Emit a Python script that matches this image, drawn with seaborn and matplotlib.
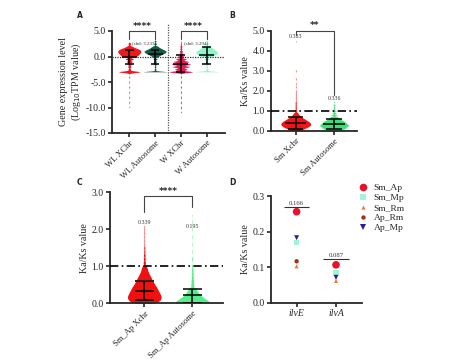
import numpy as np
import pandas as pd
import matplotlib
matplotlib.use("Agg")
import matplotlib.pyplot as plt
import seaborn as sns

sns.set_style("ticks")
plt.rcParams['font.family'] = ['Liberation Serif', 'DejaVu Serif']

# ---------------- data ----------------
# Panel A: expression profiles (value levels and relative counts)
a_groups = ["WL XChr", "WL Autosome", "W XChr", "W Autosome"]
a_colors = ["#f2161e", "#0d5c45", "#e8185a", "#8ff5c8"]
a_wlx_vals = [-10, -9, -8, -7, -6, -5, -4, -3, -2.5, -2, -1.5, -1, -0.5, 0, 0.25, 0.5, 0.75, 1.0, 1.25, 1.5, 1.75, 2.0, 2.5, 2.8]
a_wlx_cnts = [1, 1, 1, 1, 1, 1, 1, 26, 3, 4, 5, 7, 10, 13, 15, 17, 19, 20, 19, 15, 9, 5, 3, 1]
a_wla_vals = [-3, -2.5, -2, -1.5, -1, -0.5, 0, 0.25, 0.5, 0.75, 1.0, 1.25, 1.5, 1.75, 2.0, 2.5, 3.0, 3.5]
a_wla_cnts = [24, 2, 2, 3, 3, 4, 6, 9, 14, 18, 20, 17, 12, 8, 5, 3, 2, 1]
a_wx_vals = [-11, -10, -9, -8, -7, -6, -5, -4, -3, -2.5, -2, -1.5, -1, -0.5, 0, 0.5, 1, 1.5, 2, 2.5, 3]
a_wx_cnts = [1, 1, 1, 1, 1, 1, 1, 1, 22, 12, 16, 18, 15, 10, 6, 4, 3, 2, 2, 1, 1]
a_wa_vals = [-3, -2.5, -2, -1.5, -1, -0.5, 0, 0.25, 0.5, 0.75, 1.0, 1.25, 1.5, 1.75, 2, 2.5, 3, 3.5, 4]
a_wa_cnts = [22, 2, 2, 3, 3, 5, 8, 12, 16, 18, 17, 14, 11, 8, 6, 4, 2, 1, 1]
a_med = [0.0, 0.5, -1.4, 0.35]
a_q1 = [-1.5, -1.4, -3.0, -1.4]
a_q3 = [1.3, 1.3, 0.3, 1.95]
a_notes = ["(shd: 3.233)", "(shd: 3.294)"]

# Panel B: Ka/Ks
b_groups = ["Sm Xchr", "Sm Autosome"]
b_colors = ["#f01414", "#3fe07c"]
b_x_vals = [0.0, 0.05, 0.1, 0.15, 0.2, 0.25, 0.3, 0.35, 0.4, 0.45, 0.5, 0.55, 0.6, 0.65, 0.7, 0.75, 0.8, 0.85, 0.9,
            1.0, 1.1, 1.2, 1.3, 1.4, 1.5, 1.6, 1.7, 1.8, 1.9, 2.0, 2.2, 2.35, 2.6, 3.0, 4.5]
b_x_cnts = [8, 12, 16, 20, 24, 26, 28, 28, 27, 25, 22, 19, 16, 13, 10, 8, 6, 5, 4,
            3, 2, 2, 2, 2, 1, 1, 1, 1, 1, 1, 1, 1, 1, 1, 1]
b_a_vals = [0.0, 0.05, 0.1, 0.15, 0.2, 0.25, 0.3, 0.35, 0.4, 0.45, 0.5, 0.55, 0.6, 0.65, 0.7, 0.8, 0.9, 1.0, 1.1, 1.2, 1.3, 1.45]
b_a_cnts = [5, 7, 9, 10, 11, 12, 12, 11, 10, 9, 8, 6, 5, 4, 3, 3, 2, 2, 1, 1, 1, 1]
b_med = [0.38, 0.33]
b_q1 = [0.1, 0.1]
b_q3 = [0.68, 0.58]
b_means = ["0.383", "0.336"]
b_mean_y = [4.71, 1.62]

# Panel C: Ka/Ks
c_groups = ["Sm_Ap Xchr", "Sm_Ap Autosome"]
c_colors = ["#f01010", "#52ef8c"]
c_x_vals = [0.0, 0.05, 0.1, 0.15, 0.2, 0.25, 0.3, 0.35, 0.4, 0.45, 0.5, 0.55, 0.6, 0.65, 0.7, 0.75, 0.8, 0.85, 0.9, 0.95,
            1.0, 1.1, 1.2, 1.3, 1.4, 1.5, 1.6, 1.7, 1.8, 1.9, 2.0, 2.1]
c_x_cnts = [22, 30, 34, 35, 35, 33, 31, 29, 27, 25, 22, 20, 18, 16, 14, 12, 10, 8, 7, 6,
            5, 4, 3, 3, 2, 2, 1, 1, 1, 1, 1, 1]
c_a_vals = [0.0, 0.05, 0.1, 0.15, 0.2, 0.25, 0.3, 0.35, 0.4, 0.5, 0.6, 0.7, 0.8, 0.9, 1.0, 1.2, 1.4, 1.6, 1.8, 2.0, 2.2, 2.4]
c_a_cnts = [40, 36, 30, 24, 19, 15, 12, 10, 8, 6, 5, 4, 3, 3, 2, 2, 1, 1, 1, 1, 1, 1]
c_med = [0.33, 0.22]
c_q1 = [0.09, 0.02]
c_q3 = [0.6, 0.4]
c_means = ["0.339", "0.195"]
c_mean_y = [2.18, 2.07]

# Panel D: Ka/Ks per gene per species pair
d_genes = ["ilvE", "ilvA"]
d_pairs = ["Sm_Ap", "Sm_Mp", "Sm_Rm", "Ap_Rm", "Ap_Mp"]
d_draw_order = ["Ap_Rm", "Sm_Rm", "Sm_Mp", "Ap_Mp", "Sm_Ap"]
d_values = {
    "Sm_Ap": [0.256, 0.107],
    "Sm_Mp": [0.170, 0.085],
    "Sm_Rm": [0.103, 0.062],
    "Ap_Rm": [0.117, 0.108],
    "Ap_Mp": [0.183, 0.072],
}
d_colors = {"Sm_Ap": "#e8102a", "Sm_Mp": "#a0f5d6", "Sm_Rm": "#f0783a", "Ap_Rm": "#a3301c", "Ap_Mp": "#2a1a9e"}
d_markers = {"Sm_Ap": "o", "Sm_Mp": "s", "Sm_Rm": "^", "Ap_Rm": "o", "Ap_Mp": "v"}
d_sizes = {"Sm_Ap": 30, "Sm_Mp": 14, "Sm_Rm": 9, "Ap_Rm": 10, "Ap_Mp": 13}
d_bar_y = [0.268, 0.123]

# ---------------- figure ----------------
W, H = 474, 362
fig = plt.figure(figsize=(W / 100, H / 100), dpi=100)


def ax_px(x0, x1, ytop, ybot):
    return fig.add_axes([x0 / W, 1 - ybot / H, (x1 - x0) / W, (ybot - ytop) / H])


TICK = 7
LBL = 7.2
XROT = 6.2


def style(ax):
    sns.despine(ax=ax)
    for s in ["left", "bottom"]:
        ax.spines[s].set_linewidth(1.3)
    ax.tick_params(width=1.2, length=3, labelsize=TICK, pad=1.5)


def build(groups, vals_list, cnts_list):
    rows = []
    for g, v, c in zip(groups, vals_list, cnts_list):
        for val in np.repeat(v, c):
            rows.append((g, val))
    return pd.DataFrame(rows, columns=["group", "val"])


def violins(ax, df, groups, colors, bw, width):
    sns.violinplot(data=df, x="group", y="val", hue="group", order=groups, hue_order=groups,
                   palette=colors, cut=0, inner=None, density_norm="width", width=width,
                   linewidth=0, bw_method=bw, saturation=1, legend=False, ax=ax, gridsize=300)


def summary(ax, med, q1, q3, mw=0.29, cw=0.17):
    for i, (m, lo, hi) in enumerate(zip(med, q1, q3)):
        ax.vlines(i, lo, hi, color="black", lw=1.1, zorder=5)
        ax.hlines(m, i - mw, i + mw, color="black", lw=1.1, zorder=5)
        ax.hlines([lo, hi], i - cw, i + cw, color="black", lw=1.1, zorder=5)


def bracket(ax, x0, x1, ytop, yl, yr, txt, ty):
    ax.plot([x0, x0, x1, x1], [yl, ytop, ytop, yr], color="#444444", lw=0.8, clip_on=False, zorder=6)
    ax.text((x0 + x1) / 2, ty, txt, ha="center", va="center", fontsize=6.5, clip_on=False,
            family=["DejaVu Sans"], fontweight="bold")


# ---- Panel A ----
axA = ax_px(112, 225, 31, 133)
dfA = build(a_groups, [a_wlx_vals, a_wla_vals, a_wx_vals, a_wa_vals],
            [a_wlx_cnts, a_wla_cnts, a_wx_cnts, a_wa_cnts])
violins(axA, dfA, a_groups, a_colors, 0.07, 0.9)
summary(axA, a_med, a_q1, a_q3)
axA.set_xlim(-0.67, 3.71)
axA.set_ylim(-15, 5)
axA.set_yticks([5, 0, -5, -10, -15])
axA.set_yticklabels(["5.0", "0.0", "-5.0", "-10.0", "-15.0"])
axA.axhline(0, color="#333333", lw=0.9, ls=(0, (1, 1)), zorder=4)
axA.plot([1.5, 1.5], [-15, 6.3], color="#555555", lw=0.9, ls=(0, (1, 1)), clip_on=False)
style(axA)
axA.set_xlabel("")
axA.set_ylabel("Gene expression level\n(Log$_{10}$TPM value)", fontsize=LBL, labelpad=2, linespacing=1.1)
axA.set_xticks(range(4))
axA.set_xticklabels(a_groups, rotation=45, ha="right", rotation_mode="anchor", fontsize=XROT)
bracket(axA, 0, 1, 5.0, 3.5, 3.5, "****", 5.9)
bracket(axA, 2, 3, 5.0, 3.5, 3.5, "****", 5.9)
axA.text(0.12, 2.7, a_notes[0], fontsize=3.6, ha="left", va="center", color="#333333")
axA.text(2.12, 2.7, a_notes[1], fontsize=3.6, ha="left", va="center", color="#333333")

# ---- Panel B ----
axB = ax_px(271, 357, 31, 130.7)
dfB = build(b_groups, [b_x_vals, b_a_vals], [b_x_cnts, b_a_cnts])
violins(axB, dfB, b_groups, b_colors, 0.08, 0.78)
summary(axB, b_med, b_q1, b_q3, mw=0.28, cw=0.2)
axB.set_xlim(-0.645, 1.6)
axB.set_ylim(0, 5)
axB.set_yticks([0, 1, 2, 3, 4, 5])
axB.set_yticklabels(["0.0", "1.0", "2.0", "3.0", "4.0", "5.0"])
axB.axhline(1.0, color="black", lw=1.2, ls=(0, (5, 2, 1, 2)), zorder=4)
style(axB)
axB.set_xlabel("")
axB.set_ylabel("Ka/Ks value", fontsize=LBL, labelpad=2)
axB.set_xticks(range(2))
axB.set_xticklabels(b_groups, rotation=45, ha="right", rotation_mode="anchor", fontsize=XROT)
for i, (t, y) in enumerate(zip(b_means, b_mean_y)):
    axB.text(i, y, t, fontsize=4.2, ha="center", va="center", color="#333333")
bracket(axB, 0, 1, 5.0, 4.8, 1.8, "**", 5.3)

# ---- Panel C ----
axC = ax_px(110, 223, 192.3, 303.3)
dfC = build(c_groups, [c_x_vals, c_a_vals], [c_x_cnts, c_a_cnts])
violins(axC, dfC, c_groups, c_colors, 0.1, 0.7)
summary(axC, c_med, c_q1, c_q3, mw=0.2, cw=0.2)
axC.hlines(c_q3[0] + 0.01, -0.2, 0.2, color="#bbbbbb", lw=1.1, zorder=4)
axC.set_xlim(-0.715, 1.64)
axC.set_ylim(0, 3)
axC.set_yticks([0, 1, 2, 3])
axC.set_yticklabels(["0.0", "1.0", "2.0", "3.0"])
axC.axhline(1.0, color="black", lw=1.2, ls=(0, (5, 2, 1, 2)), zorder=4)
style(axC)
axC.set_xlabel("")
axC.set_ylabel("Ka/Ks value", fontsize=LBL, labelpad=2)
axC.set_xticks(range(2))
axC.set_xticklabels(c_groups, rotation=45, ha="right", rotation_mode="anchor", fontsize=XROT)
for i, (t, y) in enumerate(zip(c_means, c_mean_y)):
    axC.text(i, y, t, fontsize=4.2, ha="center", va="center", color="#333333")
bracket(axC, 0, 1, 2.9, 2.48, 2.6, "****", 3.03)

# ---- Panel D ----
axD = ax_px(271, 362, 196, 303)
rows = []
for p in d_draw_order:
    for g, v in zip(d_genes, d_values[p]):
        rows.append((g, p, v))
dfD = pd.DataFrame(rows, columns=["gene", "pair", "val"])
dfD["xpos"] = dfD["gene"].map({g: i for i, g in enumerate(d_genes)})
sns.scatterplot(data=dfD, x="xpos", y="val", hue="pair", style="pair", size="pair",
                hue_order=d_pairs, style_order=d_pairs, size_order=d_pairs,
                palette=d_colors, markers=d_markers, sizes=d_sizes, linewidth=0, ax=axD, legend="full", zorder=5)
for i, g in enumerate(d_genes):
    mean = np.mean([d_values[p][i] for p in d_pairs])
    axD.hlines(d_bar_y[i], i - 0.32, i + 0.32, color="#333333", lw=0.8)
    axD.text(i, d_bar_y[i] + 0.004, f"{mean:.3f}", fontsize=4.8, ha="center", va="bottom", color="#333333")
axD.set_xlim(-0.65, 1.66)
axD.set_ylim(0, 0.3)
axD.set_yticks([0, 0.1, 0.2, 0.3])
axD.set_yticklabels(["0.0", "0.1", "0.2", "0.3"])
axD.set_xticks(range(2))
axD.set_xticklabels(d_genes, fontsize=7, style="italic")
style(axD)
axD.set_xlabel("")
axD.set_ylabel("Ka/Ks value", fontsize=LBL, labelpad=2)
handles, labels = axD.get_legend_handles_labels()
hl = [(h, l) for h, l in zip(handles, labels) if l in d_pairs]
axD.legend([h for h, _ in hl], [l for _, l in hl], loc="upper left",
           bbox_to_anchor=(352 / W, 1 - 177 / H), bbox_transform=fig.transFigure,
           frameon=False, fontsize=6.8, labelspacing=0.15, handletextpad=0.6, handlelength=1.0,
           borderpad=0.2)

# panel letters
for lab, (x, y) in zip("ABCD", [(80, 16), (232, 16), (79, 182), (232, 182)]):
    fig.text(x / W, 1 - y / H, lab, fontsize=5.5, fontweight="bold", family=["DejaVu Sans"],
             ha="center", va="center")

fig.savefig("out.png", dpi=100)
